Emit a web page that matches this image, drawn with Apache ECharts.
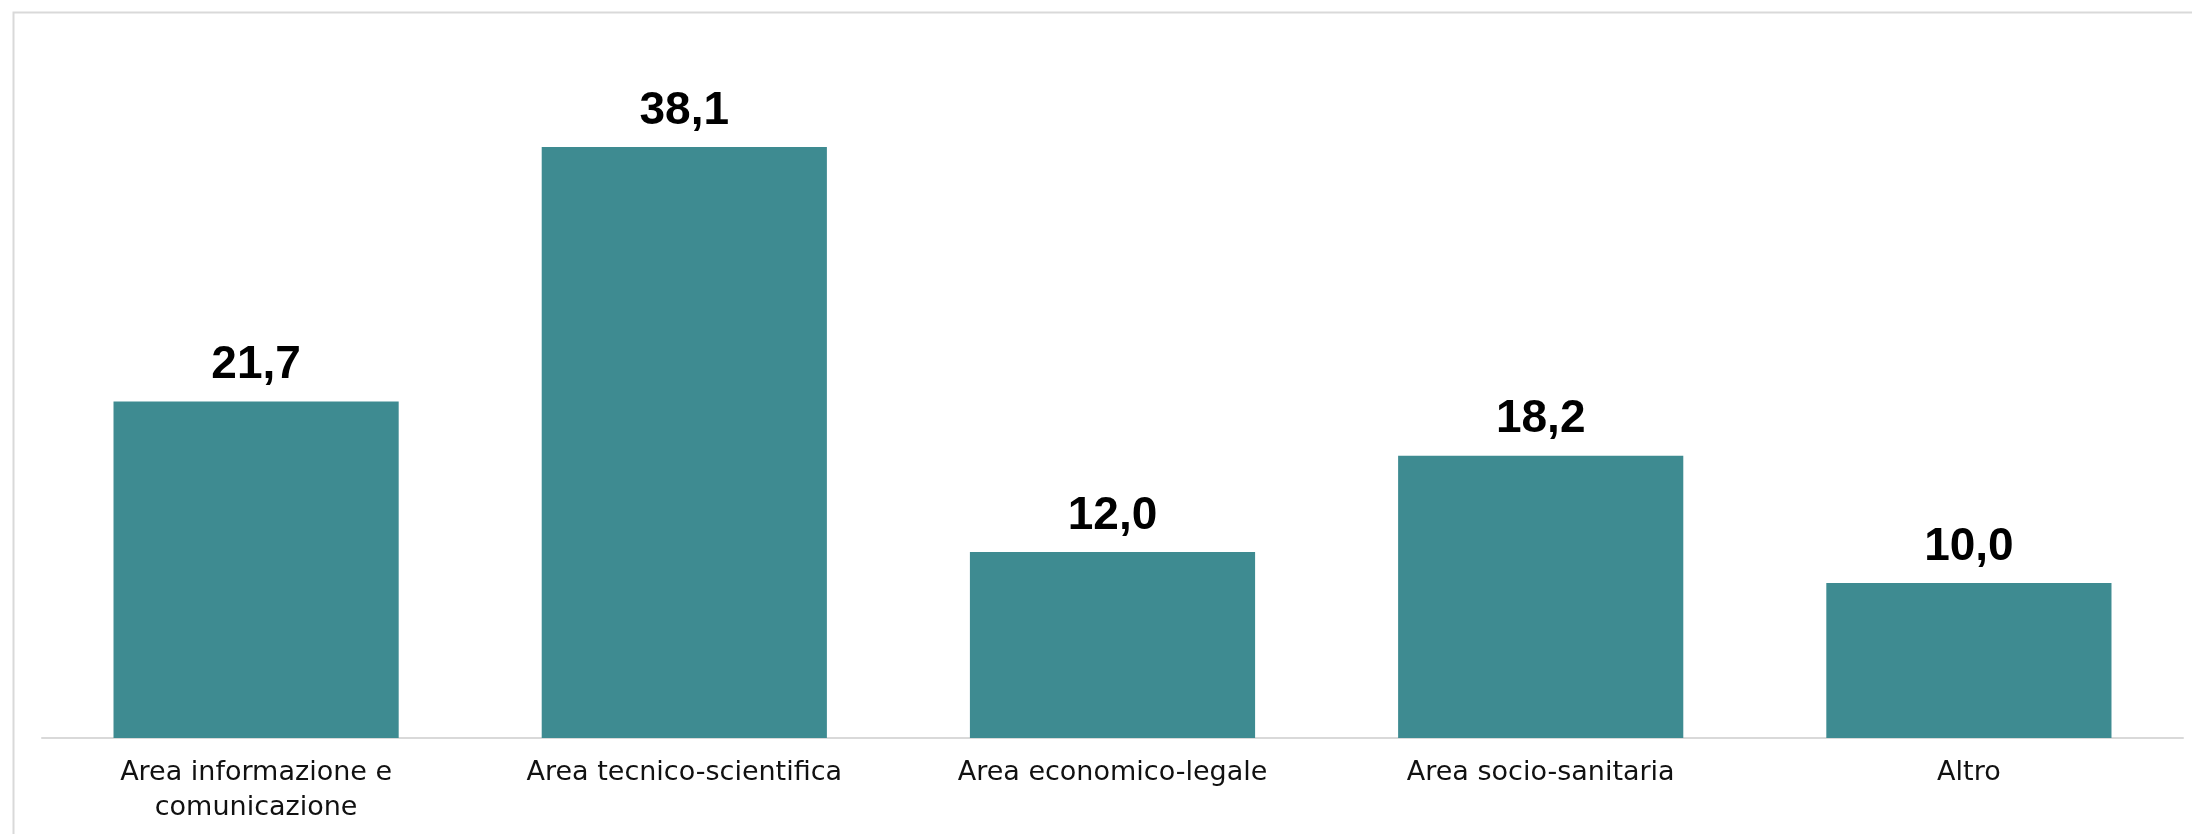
<!DOCTYPE html>
<html>
<head>
<meta charset="utf-8">
<title>Aree disciplinari</title>
<script src="https://cdn.jsdelivr.net/npm/echarts@6/dist/echarts.min.js"></script>
<style>
  html, body { margin: 0; padding: 0; background: #ffffff; }
  #chart { width: 2192px; height: 834px; }
</style>
</head>
<body>
<div id="chart"></div>
<script>
// Categories and percentage values
const categories = [
  'Area informazione e\ncomunicazione',
  'Area tecnico-scientifica',
  'Area economico-legale',
  'Area socio-sanitaria',
  'Altro'
];
const values = [21.7, 38.1, 12.0, 18.2, 10.0];

const barColor = '#3E8B91';

const chart = echarts.init(document.getElementById('chart'), null, { renderer: 'canvas' });

chart.setOption({
  animation: false,
  backgroundColor: '#ffffff',
  graphic: [{
    type: 'rect',
    left: 11,
    top: 10,
    shape: { width: 2400, height: 1000 },
    style: { fill: 'none', stroke: '#d9d9d9', lineWidth: 2 },
    silent: true,
    z: -1
  }],
  grid: { left: 42, right: 9, top: 117.6, bottom: 96, containLabel: false },
  xAxis: {
    type: 'category',
    data: categories,
    axisLine: { show: true, lineStyle: { color: '#d9d9d9', width: 2 } },
    axisTick: { show: false },
    axisLabel: {
      color: '#111111',
      fontFamily: 'DejaVu Sans',
      fontSize: 27,
      lineHeight: 35,
      margin: 17,
      interval: 0
    }
  },
  yAxis: {
    type: 'value',
    min: 0,
    max: 40,
    show: false,
    splitLine: { show: false }
  },
  series: [{
    type: 'bar',
    data: values,
    barWidth: '66.6%',
    itemStyle: { color: barColor },
    label: {
      show: true,
      position: 'top',
      distance: 13,
      color: '#000000',
      fontFamily: 'Liberation Sans',
      fontWeight: 'bold',
      fontSize: 46,
      formatter: p => p.value.toFixed(1).replace('.', ',')
    }
  }]
});
</script>
</body>
</html>
